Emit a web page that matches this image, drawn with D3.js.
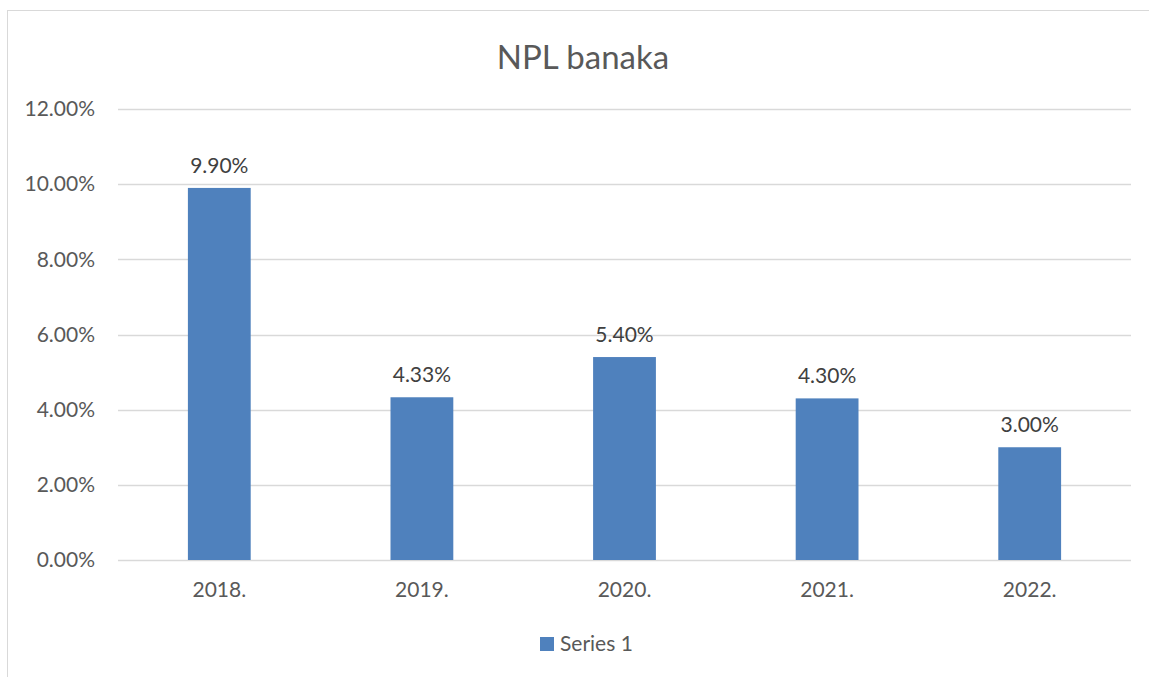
<!DOCTYPE html>
<html>
<head>
<meta charset="utf-8">
<script src="https://cdn.jsdelivr.net/npm/d3@7"></script>
<style>
  html, body { margin: 0; padding: 0; background: #fff; }
  svg { display: block; font-family: Lato, "Open Sans", sans-serif; }
</style>
</head>
<body>
<div id="chart"></div>
<script>
const years = ["2018.", "2019.", "2020.", "2021.", "2022."];
const npl = [0.099, 0.0433, 0.054, 0.043, 0.03];
const yTicks = [0, 0.02, 0.04, 0.06, 0.08, 0.10, 0.12];
const seriesName = "Series 1";

const W = 1149, H = 677;
const m = { left: 118, right: 18, top: 109, bottom: 117 };
const blue = "#4f81bd";
const textCol = "#595959";
const fs = 21;

const svg = d3.select("#chart").append("svg")
  .attr("width", W).attr("height", H);

// chart frame
svg.append("rect")
  .attr("x", 7.5).attr("y", 10.5)
  .attr("width", W + 10).attr("height", H + 10)
  .attr("fill", "#fff")
  .attr("stroke", "#d9d9d9");

const x = d3.scaleBand()
  .domain(years)
  .range([m.left, W - m.right])
  .paddingInner(0.69).paddingOuter(0.345);

const y = d3.scaleLinear()
  .domain([0, 0.12])
  .range([H - m.bottom, m.top]);

// gridlines
svg.append("g")
  .selectAll("line")
  .data(yTicks)
  .enter().append("line")
  .attr("x1", m.left).attr("x2", W - m.right)
  .attr("y1", d => Math.round(y(d)) + 0.5)
  .attr("y2", d => Math.round(y(d)) + 0.5)
  .attr("stroke", "#d9d9d9")
  .attr("stroke-width", 1.3);

// y axis labels
const yAxis = d3.axisLeft(y).tickValues(yTicks)
  .tickFormat(d3.format(".2%")).tickSize(0).tickPadding(23);
const gy = svg.append("g").attr("transform", `translate(${m.left},0)`).call(yAxis);
gy.select(".domain").remove();
gy.selectAll("text").attr("fill", textCol).attr("font-size", fs)
  .attr("font-family", "Lato, 'Open Sans', sans-serif");

// x axis labels
const xAxis = d3.axisBottom(x).tickSize(0).tickPadding(22);
const gx = svg.append("g").attr("transform", `translate(0,${H - m.bottom})`).call(xAxis);
gx.select(".domain").remove();
gx.selectAll("text").attr("fill", textCol).attr("font-size", fs)
  .attr("font-family", "Lato, 'Open Sans', sans-serif");

// bars
svg.append("g")
  .selectAll("rect")
  .data(npl)
  .enter().append("rect")
  .attr("x", (d, i) => x(years[i]))
  .attr("y", d => y(d))
  .attr("width", x.bandwidth())
  .attr("height", d => y(0) - y(d))
  .attr("fill", blue);

// value labels
svg.append("g")
  .selectAll("text")
  .data(npl)
  .enter().append("text")
  .attr("x", (d, i) => x(years[i]) + x.bandwidth() / 2)
  .attr("y", d => y(d) - 15)
  .attr("text-anchor", "middle")
  .attr("fill", "#404040")
  .attr("font-size", fs)
  .text(d => d3.format(".2%")(d));

// title
svg.append("text")
  .attr("x", 583).attr("y", 69)
  .attr("text-anchor", "middle")
  .attr("fill", textCol)
  .attr("font-size", 33)
  .text("NPL banaka");

// legend
const lg = svg.append("g").attr("transform", "translate(540,637)");
lg.append("rect").attr("width", 14).attr("height", 14).attr("fill", blue);
lg.append("text").attr("x", 20).attr("y", 14)
  .attr("fill", textCol).attr("font-size", fs).text(seriesName);
</script>
</body>
</html>
